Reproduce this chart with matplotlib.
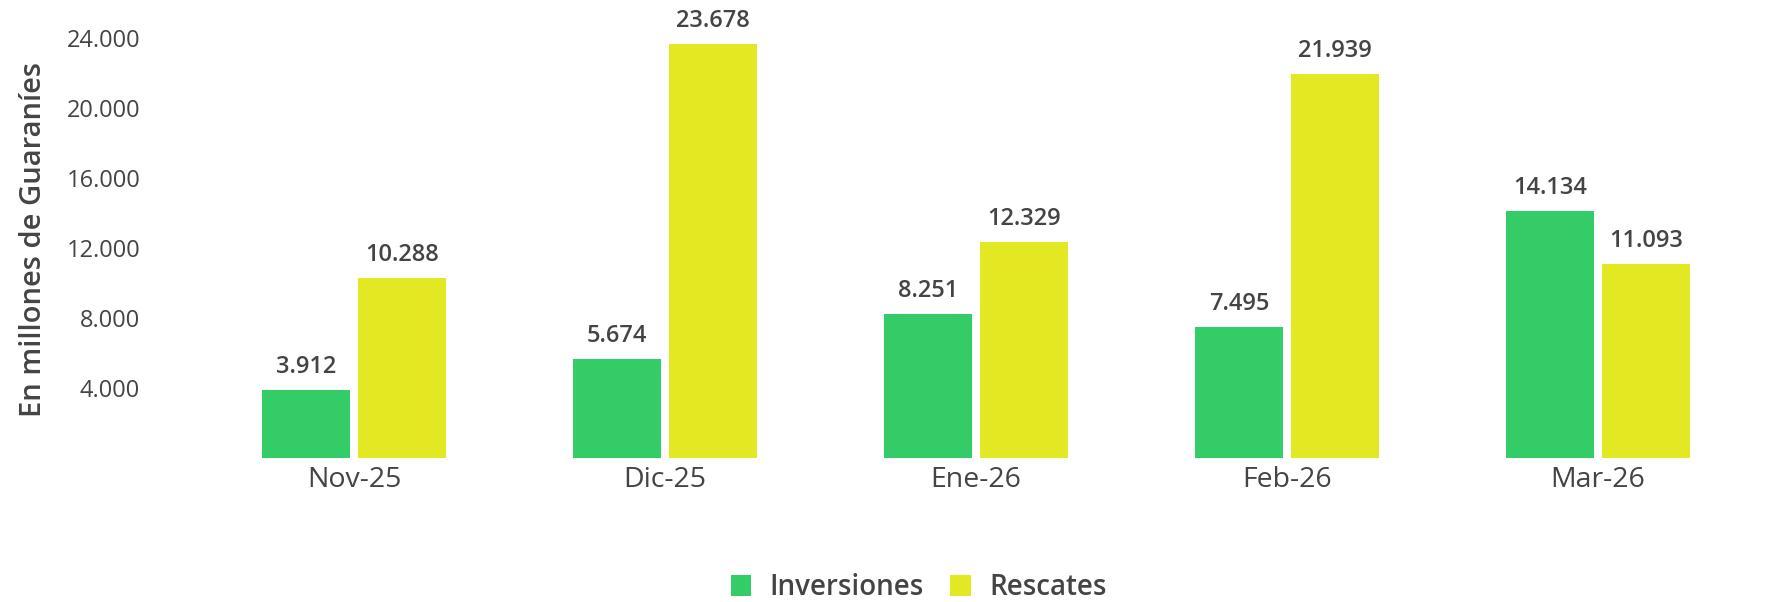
import matplotlib
matplotlib.use('Agg')
import matplotlib.pyplot as plt
import numpy as np

# data
meses = ["Nov-25", "Dic-25", "Ene-26", "Feb-26", "Mar-26"]
inversiones = [3912, 5674, 8251, 7495, 14134]
rescates = [10288, 23678, 12329, 21939, 11093]
y_ticks = [4000, 8000, 12000, 16000, 20000, 24000]

VERDE = '#33cc66'
AMARILLO = '#e2e822'
TEXTO = '#444444'

plt.rcParams['font.family'] = ['Open Sans', 'DejaVu Sans']

fig = plt.figure(figsize=(17.73, 6.02), dpi=100)
ax = fig.add_axes([0.112, 0.239, 0.877, 0.727])

x = np.arange(len(meses))
ancho = 0.283
sep = 0.013

b1 = ax.bar(x - ancho / 2 - sep, inversiones, ancho, color=VERDE, label='Inversiones')
b2 = ax.bar(x + ancho / 2 + sep, rescates, ancho, color=AMARILLO, label='Rescates')

def fmt(v):
    return f"{v:,}".replace(",", ".")

for barras, vals in ((b1, inversiones), (b2, rescates)):
    for b, v in zip(barras, vals):
        ax.annotate(fmt(v), (b.get_x() + b.get_width() / 2, v),
                    xytext=(0, 8), textcoords='offset points',
                    ha='center', va='bottom', fontsize=17,
                    fontweight='semibold', color=TEXTO)

ax.set_xlim(-0.5, len(meses) - 0.5)
ax.set_ylim(0, 25000)
ax.set_xticks(x)
ax.set_xticklabels(meses, fontsize=20.5, color=TEXTO)
ax.set_yticks(y_ticks)
ax.set_yticklabels([fmt(t) for t in y_ticks], fontsize=17, color=TEXTO)
ax.tick_params(axis='both', length=0)
ax.tick_params(axis='y', pad=42)
ax.tick_params(axis='x', pad=6)
ax.set_ylabel('En millones de Guaraníes', fontsize=21, fontweight='semibold',
              color=TEXTO, labelpad=13)

for s in ax.spines.values():
    s.set_visible(False)

fig.legend(handles=[b1, b2], loc='center', bbox_to_anchor=(0.518, 0.024),
           ncol=2, frameon=False, handlelength=0.75,
           handleheight=0.75, handletextpad=0.65, columnspacing=0.95,
           labelcolor=TEXTO, prop={'weight': 'semibold', 'size': 20})

fig.savefig('out.png', dpi=100)
